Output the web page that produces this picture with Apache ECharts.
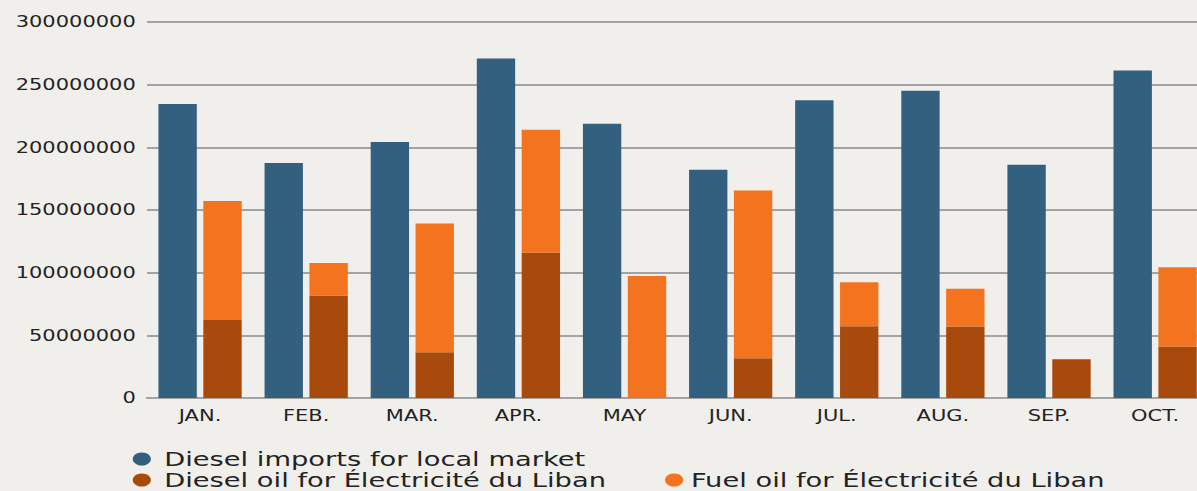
<!DOCTYPE html>
<html>
<head>
<meta charset="utf-8">
<script src="https://cdn.jsdelivr.net/npm/echarts@6/dist/echarts.min.js"></script>
<style>
  html, body { margin: 0; padding: 0; width: 1197px; height: 491px; overflow: hidden; background: #f0efeb; }
  #chart { width: 863px; height: 491px; transform: scaleX(1.4); transform-origin: 0 0; }
</style>
</head>
<body>
<div id="chart"></div>
<script>
const categories = ['JAN.', 'FEB.', 'MAR.', 'APR.', 'MAY', 'JUN.', 'JUL.', 'AUG.', 'SEP.', 'OCT.'];
const dieselImportsLocal = [234600000, 187500000, 204200000, 270800000, 218800000, 182100000, 237500000, 245200000, 186100000, 261400000];
const dieselOilEDL = [62300000, 81700000, 36500000, 116000000, 0, 31700000, 57300000, 57000000, 30900000, 41000000];
const fuelOilEDL = [94800000, 26100000, 102700000, 98000000, 97400000, 133900000, 35100000, 30100000, 0, 63400000];
const yTicks = { min: 0, max: 300000000, interval: 50000000 };
const seriesNames = ['Diesel imports for local market', 'Diesel oil for Électricité du Liban', 'Fuel oil for Électricité du Liban'];

const chart = echarts.init(document.getElementById('chart'), null, { renderer: 'svg' });
const textColor = '#232323';
const gridColor = '#a3a3a3';
chart.setOption({
  animation: false,
  backgroundColor: 'transparent',
  textStyle: { fontFamily: 'DejaVu Sans' },
  grid: { left: 105, right: 0, top: 22, bottom: 93 },
  legend: [
    {
      data: [seriesNames[0], seriesNames[1]],
      orient: 'vertical',
      left: 94.8, top: 448.5, height: 120,
      padding: 0, itemGap: 0,
      icon: 'circle', itemWidth: 14, itemHeight: 13,
      textStyle: { fontSize: 19.5, lineHeight: 21, color: textColor, fontFamily: 'DejaVu Sans', padding: [0, 0, 0, 4] }
    },
    {
      data: [seriesNames[2]],
      orient: 'vertical',
      left: 475, top: 469.5, height: 60,
      padding: 0, itemGap: 0,
      icon: 'circle', itemWidth: 14, itemHeight: 13,
      textStyle: { fontSize: 19.5, lineHeight: 21, color: textColor, fontFamily: 'DejaVu Sans' }
    }
  ],
  xAxis: {
    type: 'category',
    data: categories,
    axisTick: { show: false },
    axisLine: { show: true, lineStyle: { color: gridColor, width: 2 } },
    axisLabel: { margin: 10, fontSize: 15, color: textColor, fontFamily: 'DejaVu Sans' }
  },
  yAxis: {
    type: 'value',
    min: yTicks.min, max: yTicks.max, interval: yTicks.interval,
    axisLine: { show: false },
    axisTick: { show: false },
    splitLine: { show: true, lineStyle: { color: gridColor, width: 2 } },
    axisLabel: { margin: 8, fontSize: 15, color: textColor, fontFamily: 'DejaVu Sans', formatter: v => String(v) }
  },
  series: [
    { name: seriesNames[0], type: 'bar', data: dieselImportsLocal, barWidth: 27.4, barGap: '17%', itemStyle: { color: '#33607f' } },
    { name: seriesNames[1], type: 'bar', stack: 'edl', data: dieselOilEDL, barWidth: 27.4, barGap: '17%', itemStyle: { color: '#a84a0b' } },
    { name: seriesNames[2], type: 'bar', stack: 'edl', data: fuelOilEDL, barWidth: 27.4, barGap: '17%', itemStyle: { color: '#f4731f' } }
  ]
});
</script>
</body>
</html>
